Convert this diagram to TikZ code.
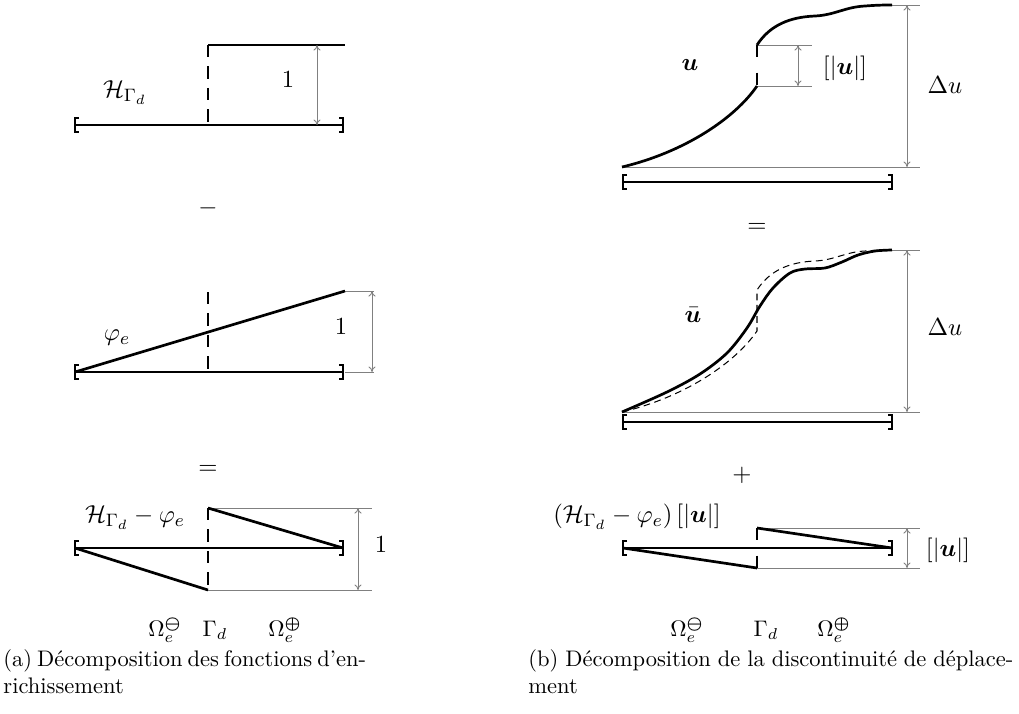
\documentclass[tikz,border=0pt]{standalone}
\usepackage{amsmath,amssymb,bm}
\usepackage{fontspec}
\usetikzlibrary{arrows.meta}
\tikzset{
  bar/.style={line width=1.2pt},
  fn/.style={line width=1.2pt, line join=round},
  jump/.style={line width=1.2pt, dash pattern=on 5.5pt off 4pt},
  shortjump/.style={line width=1.2pt, dash pattern=on 5.3pt off 7pt},
  thindash/.style={line width=0.45pt, dash pattern=on 3pt off 2pt},
  guide/.style={gray, line width=0.4pt},
  dim/.style={gray, line width=0.4pt, {To[length=2.5pt,width=3.2pt]}-{To[length=2.5pt,width=3.2pt]}},
  brk/.style={line width=1.2pt},
  lbl/.style={inner sep=0pt, font=\fontsize{10.95}{13}\selectfont},
  sublbl/.style={inner sep=0pt},
  captxt/.style={inner sep=0pt, anchor=base west}
}
\newcommand\lbrk[1]{\draw[brk] ([shift={(4,-7)}]#1) -- ++(-4,0) -- ++(0,14) -- ++(4,0);}
\newcommand\rbrk[1]{\draw[brk] ([shift={(-4,-7)}]#1) -- ++(4,0) -- ++(0,14) -- ++(-4,0);}
\newcommand\ucurve{(622,167) .. controls (685,152) and (735,118) .. (757,86)}
\newcommand\uupper{(757,45) .. controls (770,25) and (790,17) .. (815,16) .. controls (835,15) and (845,7) .. (865,6) .. controls (878,5) and (885,5) .. (892,5)}
\begin{document}
\begin{tikzpicture}[x=0.4443pt,y=-0.4443pt]
\useasboundingbox (0,0) rectangle (1019,713);

% ================= LEFT (a) =================
% panel 1
\coordinate (a1l) at (75,125); \coordinate (a1r) at (343,125);
\coordinate (a1m) at (208,125); \coordinate (a1t) at (208,45); \coordinate (a1e) at (345,45);
\coordinate (a1d1) at (317,45); \coordinate (a1d2) at (317,125);
\draw[bar] (a1l) -- (a1r); \lbrk{a1l} \rbrk{a1r}
\draw[jump] (a1t) -- (a1m);
\draw[fn] (a1t) -- (a1e);
\draw[dim] (a1d1) -- (a1d2);
\node[lbl] (a1one) at (288,80) {$1$};
\node[lbl] (a1H) at (125,93) {$\mathcal{H}_{\Gamma_d}$};
\node[lbl] (aminus) at (208,208) {$-$};

% panel 2
\coordinate (a2l) at (75,372); \coordinate (a2r) at (343,372);
\coordinate (a2m) at (208,372); \coordinate (a2t) at (208,292);
\coordinate (a2e) at (345,291); \coordinate (a2b) at (345,372);
\coordinate (a2ge) at (374,291); \coordinate (a2gb) at (374,372);
\coordinate (a2d1) at (372,291); \coordinate (a2d2) at (372,372);
\draw[guide] (a2e) -- (a2ge); \draw[guide] (a2b) -- (a2gb);
\draw[dim] (a2d1) -- (a2d2);
\draw[bar] (a2l) -- (a2r); \lbrk{a2l} \rbrk{a2r}
\draw[jump] (a2t) -- (a2m);
\draw[fn] (a2l) -- (a2e);
\node[lbl] (a2one) at (341,327) {$1$};
\node[lbl] (a2phi) at (117,338) {$\varphi_e$};
\node[lbl] (aeq) at (208,470) {$=$};

% panel 3
\coordinate (a3l) at (75,548); \coordinate (a3r) at (343,548);
\coordinate (a3t) at (208,508); \coordinate (a3b) at (208,590);
\coordinate (a3gt) at (372,508); \coordinate (a3gb) at (372,590);
\coordinate (a3d1) at (358,508); \coordinate (a3d2) at (358,590);
\draw[guide] (a3t) -- (a3gt); \draw[guide] (a3b) -- (a3gb);
\draw[dim] (a3d1) -- (a3d2);
\draw[bar] (a3l) -- (a3r); \lbrk{a3l} \rbrk{a3r}
\draw[jump] (a3t) -- (a3b);
\draw[fn] (a3t) -- (a3r);
\draw[fn] (a3l) -- (a3b);
\node[lbl] (a3one) at (381,545) {$1$};
\node[lbl] (a3H) at (135,518) {$\mathcal{H}_{\Gamma_d}-\varphi_e$};

\node[sublbl] (aOm) at (165,630) {$\Omega_e^{\boldsymbol{\ominus}}$};
\node[sublbl] (aG) at (215,630) {$\Gamma_d$};
\node[sublbl] (aOp) at (285,630) {$\Omega_e^{\boldsymbol{\oplus}}$};

% ================= RIGHT (b) =================
% panel 1
\coordinate (b1l) at (623,182); \coordinate (b1r) at (892,182);
\coordinate (b1s) at (622,167); \coordinate (b1gs) at (920,167);
\coordinate (b1top) at (892,5); \coordinate (b1gtop) at (920,5);
\coordinate (b1d1) at (907,5); \coordinate (b1d2) at (907,167);
\coordinate (b1j1) at (757,86); \coordinate (b1j2) at (757,45);
\coordinate (b1g1) at (812,45); \coordinate (b1g2) at (812,86);
\coordinate (b1e1) at (798,45); \coordinate (b1e2) at (798,86);
\draw[guide] (b1s) -- (b1gs); \draw[guide] (b1top) -- (b1gtop);
\draw[guide] (b1j2) -- (b1g1); \draw[guide] (b1j1) -- (b1g2);
\draw[dim] (b1d1) -- (b1d2);
\draw[dim] (b1e1) -- (b1e2);
\draw[bar] (b1l) -- (b1r); \lbrk{b1l} \rbrk{b1r}
\draw[fn] \ucurve;
\draw[shortjump] (b1j2) -- (b1j1);
\draw[fn] \uupper;
\node[lbl] (b1u) at (690,65) {$\bm{u}$};
\node[lbl] (b1jmp) at (845,68) {$[|\bm{u}|]$};
\node[lbl] (b1Du) at (945,85) {$\Delta u$};
\node[lbl] (beq) at (757,228) {$=$};

% panel 2
\coordinate (b2l) at (623,422); \coordinate (b2r) at (892,422);
\coordinate (b2s) at (622,412); \coordinate (b2gs) at (920,412);
\coordinate (b2top) at (892,250); \coordinate (b2gtop) at (920,250);
\coordinate (b2d1) at (907,250); \coordinate (b2d2) at (907,412);
\draw[guide] (b2s) -- (b2gs); \draw[guide] (b2top) -- (b2gtop);
\draw[dim] (b2d1) -- (b2d2);
\draw[bar] (b2l) -- (b2r); \lbrk{b2l} \rbrk{b2r}
\begin{scope}[shift={(0,245)}]
  \draw[thindash] \ucurve -- (757,45) .. controls (770,25) and (790,17) .. (815,16) .. controls (835,15) and (845,7) .. (865,6) .. controls (878,5) and (885,5) .. (892,5);
\end{scope}
\draw[fn] plot[smooth, tension=0.55] coordinates {(622,412) (667,392) (700,374) (727,353) (747,328) (760,306) (773,288) (790,273) (805,269) (825,268) (842,262) (858,255) (875,251) (892,250)};
\node[lbl] (b2u) at (693,315) {$\bar{\bm{u}}$};
\node[lbl] (b2Du) at (945,327) {$\Delta u$};
\node[lbl] (bplus) at (742,475) {$+$};

% panel 3
\coordinate (b3l) at (623,548); \coordinate (b3r) at (892,548);
\coordinate (b3t) at (757,528); \coordinate (b3b) at (757,568);
\coordinate (b3gt) at (920,528); \coordinate (b3gb) at (920,568);
\coordinate (b3d1) at (907,528); \coordinate (b3d2) at (907,568);
\draw[guide] (b3t) -- (b3gt); \draw[guide] (b3b) -- (b3gb);
\draw[dim] (b3d1) -- (b3d2);
\draw[bar] (b3l) -- (b3r); \lbrk{b3l} \rbrk{b3r}
\draw[shortjump] (b3t) -- (b3b);
\draw[fn] (b3t) -- (b3r);
\draw[fn] (b3l) -- (b3b);
\node[lbl] (b3H) at (637,517) {$\left(\mathcal{H}_{\Gamma_d}-\varphi_e\right)[|\bm{u}|]$};
\node[lbl] (b3jmp) at (948,550) {$[|\bm{u}|]$};

\node[sublbl] (bOm) at (687,630) {$\Omega_e^{\boldsymbol{\ominus}}$};
\node[sublbl] (bG) at (766,630) {$\Gamma_d$};
\node[sublbl] (bOp) at (834,630) {$\Omega_e^{\boldsymbol{\oplus}}$};

% captions
\node[captxt] (capa1) at (3,666) {\makebox[146.6pt][s]{(a) Décomposition des fonctions d'en-}};
\node[captxt] (capa2) at (3,693) {richissement};
\node[captxt] (capb1) at (528,666) {\makebox[215.5pt][s]{(b) Décomposition de la discontinuité de déplace-}};
\node[captxt] (capb2) at (528,693) {ment};
\end{tikzpicture}
\end{document}
